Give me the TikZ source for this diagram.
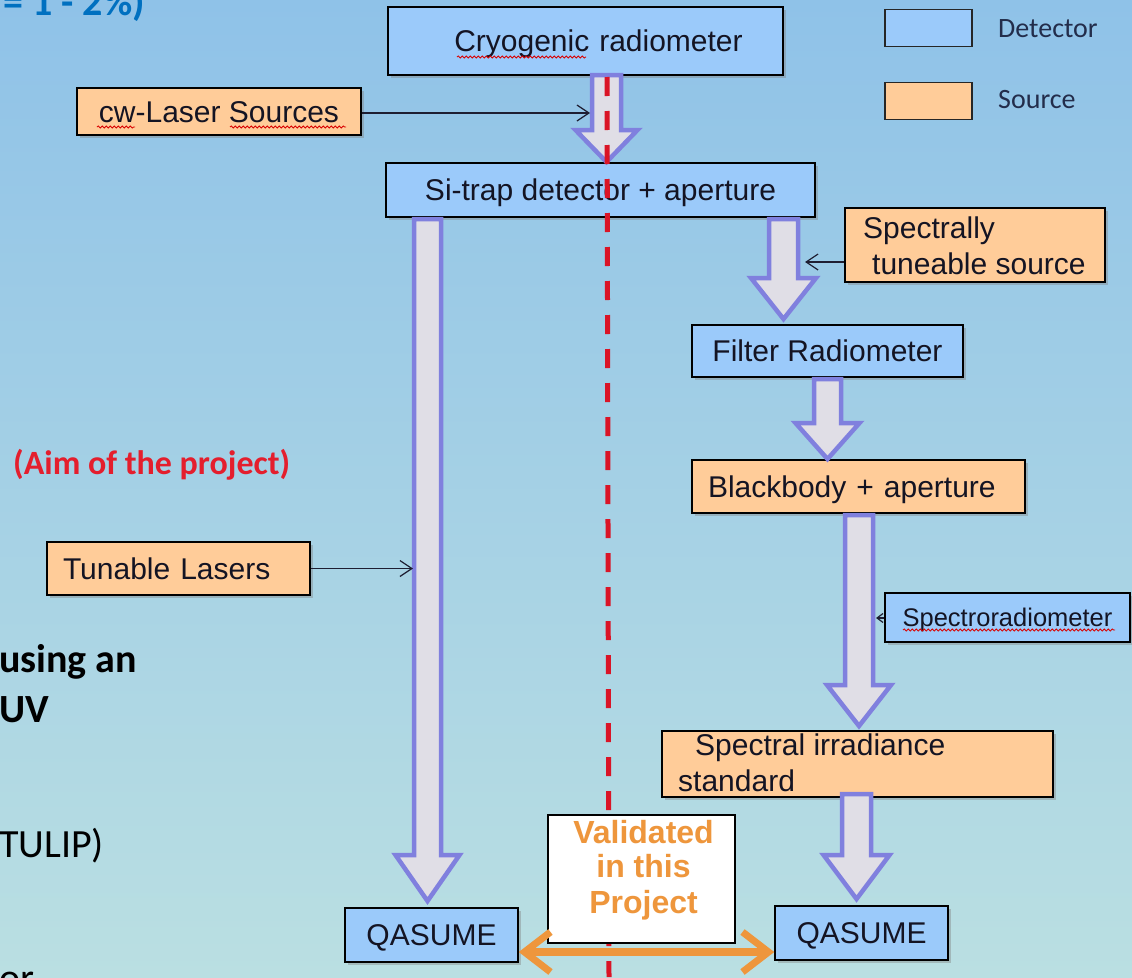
\documentclass[tikz,border=0pt]{standalone}
\usepackage{fontspec}
\setmainfont{Liberation Sans}
\newfontfamily\calfont{Carlito}
\usetikzlibrary{arrows.meta,shadows,decorations.pathmorphing}

\definecolor{bgtop}{RGB}{143,194,232}
\definecolor{bgbot}{RGB}{186,223,226}
\definecolor{detfill}{RGB}{155,202,250}
\definecolor{srcfill}{RGB}{255,204,153}
\definecolor{arrfill}{RGB}{224,222,230}
\definecolor{arrline}{RGB}{128,128,222}
\definecolor{dashred}{RGB}{218,20,38}
\definecolor{txtdark}{RGB}{20,20,35}
\definecolor{legtxt}{RGB}{35,45,75}
\definecolor{valorange}{RGB}{238,150,60}
\definecolor{titleblue}{RGB}{0,112,192}
\definecolor{aimred}{RGB}{228,30,45}
\definecolor{linedark}{RGB}{30,30,50}

\newcommand\blockarr[6]{% cx, ytop, yhead, ytip, shaft half, head half
  \filldraw[barrow] ({#1-#5},#2) -- ({#1+#5},#2) -- ({#1+#5},#3) -- ({#1+#6},#3)
    -- (#1,#4) -- ({#1-#6},#3) -- ({#1-#5},#3) -- cycle;}

\tikzset{
  boxbase/.style={draw=black, line width=1.5pt, inner sep=0pt, text=txtdark,
    font=\fontsize{30}{36}\selectfont, text height=21.5pt, text depth=0pt},
  shadowed/.style={drop shadow={shadow xshift=2.5pt,shadow yshift=-3pt,opacity=0.4}},
  detbox/.style={boxbase, shadowed, fill=detfill},
  srcbox/.style={boxbase, shadowed, fill=srcfill},
  legbox/.style={draw=black!85, line width=1.5pt, minimum width=87pt, minimum height=37pt, inner sep=0pt},
  barrow/.style={fill=arrfill, draw=arrline, line width=4.5pt},
  thinarr/.style={draw=linedark, line width=1.2pt, -{Straight Barb[length=12pt,width=16pt]}},
  wavy/.style={draw=red!85!black, line width=0.8pt, decorate,
    decoration={snake,segment length=4pt,amplitude=1.1pt}},
  boxtext/.style={anchor=base west, inner sep=0pt, text=txtdark, font=\fontsize{30}{36}\selectfont},
  valtext/.style={anchor=base, inner sep=0pt, text=valorange, font=\bfseries\fontsize{32}{36}\selectfont},
  sidetext/.style={anchor=base west, inner sep=0pt, text=black, font=\calfont\fontsize{40}{48}\selectfont},
  legtext/.style={anchor=base west, inner sep=0pt, text=legtxt, font=\calfont\fontsize{28}{32}\selectfont},
}

\begin{document}
\begin{tikzpicture}[x=1pt,y=-1pt]
\useasboundingbox (0,0) rectangle (1132,977);
\clip (0,0) rectangle (1132,977);
\fill[top color=bgtop, bottom color=bgbot] (0,0) rectangle (1132,977);

% ---- boxes ----
\node[detbox, minimum width=395pt, minimum height=68pt, text width=395pt, align=center] (cryo) at (585.5,41) {\hspace*{26pt}Cryogenic radiometer};
\node[srcbox, minimum width=284pt, minimum height=47pt] (cw) at (219,111.5) {cw-Laser Sources};
\node[detbox, minimum width=429pt, minimum height=54pt] (sitrap) at (600.5,190) {Si-trap detector + aperture};
\node[srcbox, minimum width=260pt, minimum height=74pt] (spec) at (975,245) {};
\node[detbox, minimum width=271pt, minimum height=52pt] (filt) at (827.5,351) {Filter Radiometer};
\node[srcbox, minimum width=333pt, minimum height=53pt, text width=301pt, align=left] (bb) at (858.5,486.5) {Blackbody + aperture};
\node[srcbox, minimum width=263pt, minimum height=53pt, text width=231pt, align=left] (tun) at (178.5,568.5) {Tunable Lasers};
\node[detbox, minimum width=245pt, minimum height=49pt, font=\fontsize{25.5}{30}\selectfont, text height=18.3pt] (sr) at (1007.5,617.5) {Spectroradiometer};
\node[srcbox, minimum width=391pt, minimum height=66pt] (sis) at (857.5,764) {};
\node[detbox, minimum width=173pt, minimum height=54pt] (qL) at (431.5,935) {QASUME};
\node[detbox, minimum width=173pt, minimum height=54pt] (qR) at (861.5,933) {QASUME};

\node[boxtext] (spec1) at (863,238) {Spectrally};
\node[boxtext] (spec2) at (872,274) {tuneable source};
\node[boxtext] (sis1) at (695,755) {Spectral irradiance};
\node[boxtext] (sis2) at (678,791) {standard};

% ---- block arrows ----
\blockarr{606.5}{75}{130}{162}{14.5}{31}
\blockarr{783.5}{219}{278}{319}{14.5}{32.5}
\blockarr{827.5}{379}{423}{459}{13.5}{32}
\blockarr{859}{515}{685}{726}{14}{32}
\blockarr{856.5}{794}{855}{899}{14.5}{33}
\blockarr{427.5}{219}{855}{901}{13.5}{32}

% ---- red dashed line ----
\coordinate (rtop) at (607,77);
\coordinate (rbot) at (609,977);
\draw[dashred, line width=5pt, dash pattern=on 19pt off 15pt] (rtop) -- (rbot);

% ---- thin arrows ----
\coordinate (cwT) at (590,113);
\coordinate (specT) at (805,262);
\coordinate (tunT) at (413,568.5);
\coordinate (srT) at (876,618);
\draw[thinarr] (cw.east |- cwT) -- (cwT);
\draw[thinarr] (spec.west |- specT) -- (specT);
\draw[thinarr] (tun.east) -- (tunT);
\draw[draw=linedark, line width=1.2pt, -{Straight Barb[length=6pt,width=9pt]}] (sr.west |- srT) -- (srT);

% ---- spell-check underlines ----
\draw[wavy] (457,57) -- (586,57);
\draw[wavy] (97,127) -- (135,127);
\draw[wavy] (230,127) -- (346,127);
\draw[wavy] (903,630) -- (1115,630);

% ---- validated box and orange arrow ----
\node[boxbase, fill=white, minimum width=187pt, minimum height=128pt] (val) at (641.5,879) {};
\node[valtext] (val1) at (643.5,843) {Validated};
\node[valtext] (val2) at (643.5,877) {in this};
\node[valtext] (val3) at (643.5,913) {Project};
\coordinate (oy) at (0,952);
\draw[valorange, line width=8pt,
  {Straight Barb[length=26pt,width=40pt,line width=7pt]}-{Straight Barb[length=26pt,width=40pt,line width=7pt]}]
  (qL.east |- oy) -- (qR.west |- oy);

% ---- legend ----
\node[legbox, fill=detfill] (legdet) at (928.5,28) {};
\node[legbox, fill=srcfill] (legsrc) at (928.5,101) {};
\node[legtext] (legdett) at (998,37) {Detector};
\node[legtext] (legsrct) at (998,108) {Source};

% ---- side texts ----
\node[anchor=base east, inner sep=0pt, text=titleblue, font=\calfont\bfseries\fontsize{40}{48}\selectfont] (title) at (145,15) {= 1 - 2\%)};
\node[anchor=base west, inner sep=0pt, text=aimred, font=\calfont\bfseries\fontsize{34}{40}\selectfont] (aim) at (13,474) {(Aim of the project)};
\node[sidetext, font=\calfont\bfseries\fontsize{40}{48}\selectfont] (t1) at (-1,672) {using an};
\node[sidetext, font=\calfont\bfseries\fontsize{40}{48}\selectfont] (t2) at (-1,722) {UV};
\node[sidetext] (t3) at (-1,857) {TULIP)};
\node[sidetext] (t4) at (-1,991) {or};
\end{tikzpicture}
\end{document}
